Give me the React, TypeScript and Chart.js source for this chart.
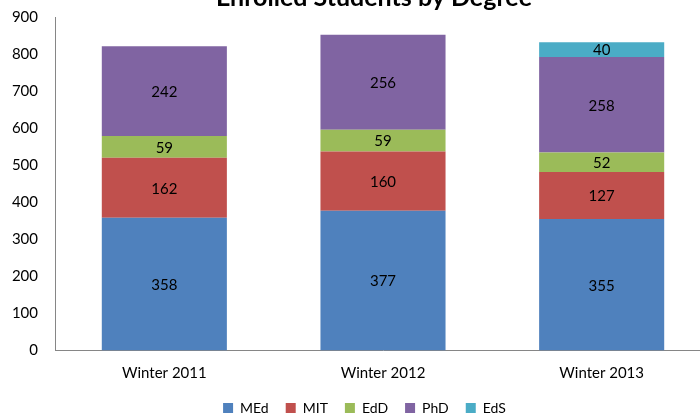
import React, { useEffect, useRef } from "react";
import { Chart, registerables } from "chart.js";

Chart.register(...registerables);

const categories = ["Winter 2011", "Winter 2012", "Winter 2013"];
const medValues = [358, 377, 355];
const mitValues = [162, 160, 127];
const eddValues = [59, 59, 52];
const phdValues = [242, 256, 258];
const edsValues: (number | null)[] = [null, null, 40];
const yTicks = [0, 100, 200, 300, 400, 500, 600, 700, 800, 900];

const FONT = "Lato, 'Open Sans', sans-serif";

const labelPlugin = {
  id: "segmentLabels",
  afterLayout(chart: any) {
    // centre title and legend over the whole (uncropped) chart
    const t = chart.titleBlock;
    if (t) {
      t.left += 18.5;
      t.right += 18.5;
    }
    const l = chart.legend;
    if (l) {
      l.left += 9;
      l.right += 9;
    }
  },
  afterDatasetsDraw(chart: any) {
    const ctx = chart.ctx;
    ctx.save();
    ctx.font = `15px ${FONT}`;
    ctx.fillStyle = "#000000";
    ctx.textAlign = "center";
    ctx.textBaseline = "middle";
    chart.data.datasets.forEach((ds: any, di: number) => {
      const meta = chart.getDatasetMeta(di);
      meta.data.forEach((el: any, i: number) => {
        const v = ds.data[i];
        if (v === null || v === undefined || v === 0) return;
        const p = el.getProps(["x", "y", "base"], true);
        ctx.fillText(String(v), p.x, (p.y + p.base) / 2 + 1);
      });
    });
    ctx.restore();
  },
};

export default function App() {
  const ref = useRef<HTMLCanvasElement | null>(null);
  useEffect(() => {
    if (!ref.current) return;
    const chart = new Chart(ref.current, {
      type: "bar",
      data: {
        labels: categories,
        datasets: [
          { label: "MEd", data: medValues, backgroundColor: "#4F81BD" },
          { label: "MIT", data: mitValues, backgroundColor: "#C0504D" },
          { label: "EdD", data: eddValues, backgroundColor: "#9BBB59" },
          { label: "PhD", data: phdValues, backgroundColor: "#8064A2" },
          { label: "EdS", data: edsValues, backgroundColor: "#4BACC6" },
        ],
      },
      options: {
        responsive: false,
        animation: false,
        devicePixelRatio: 1,
        layout: { padding: { left: 0, right: 29, top: 0, bottom: 0 } },
        datasets: { bar: { categoryPercentage: 1, barPercentage: 0.572 } },
        scales: {
          x: {
            stacked: true,
            afterFit: (s: any) => {
              s.paddingLeft = 0;
              s.paddingRight = 0;
              s.height = s.height - 12.5;
            },
            grid: { display: false, drawTicks: false },
            border: { display: true, color: "#868686", width: 1 },
            ticks: { color: "#000000", font: { family: FONT, size: 15 }, padding: 14 },
          },
          y: {
            stacked: true,
            min: 0,
            max: 900,
            afterBuildTicks: (axis: any) => {
              axis.ticks = yTicks.map((v) => ({ value: v }));
            },
            afterFit: (s: any) => {
              s.width = 55;
            },
            grid: { display: false, drawTicks: false },
            border: { display: true, color: "#868686", width: 1 },
            ticks: { color: "#000000", font: { family: FONT, size: 15 }, padding: 17 },
          },
        },
        plugins: {
          title: {
            display: true,
            text: "Enrolled Students by Degree",
            color: "#000000",
            font: { family: FONT, size: 25, weight: "bold" },
            padding: { top: 13, bottom: 4 },
          },
          legend: {
            position: "bottom",
            labels: {
              boxWidth: 10,
              boxHeight: 10,
              padding: 17,
              color: "#000000",
              font: { family: FONT, size: 14 },
            },
          },
          tooltip: { enabled: false },
        },
      },
      plugins: [labelPlugin],
    } as any);
    return () => chart.destroy();
  }, []);
  return (
    <div style={{ position: "absolute", left: 0, top: 0, width: 700, height: 418, overflow: "hidden", background: "#fff" }}>
      <div style={{ position: "absolute", left: 0, top: -30 }}>
        <canvas ref={ref} width={740} height={455} style={{ display: "block" }} />
      </div>
    </div>
  );
}
